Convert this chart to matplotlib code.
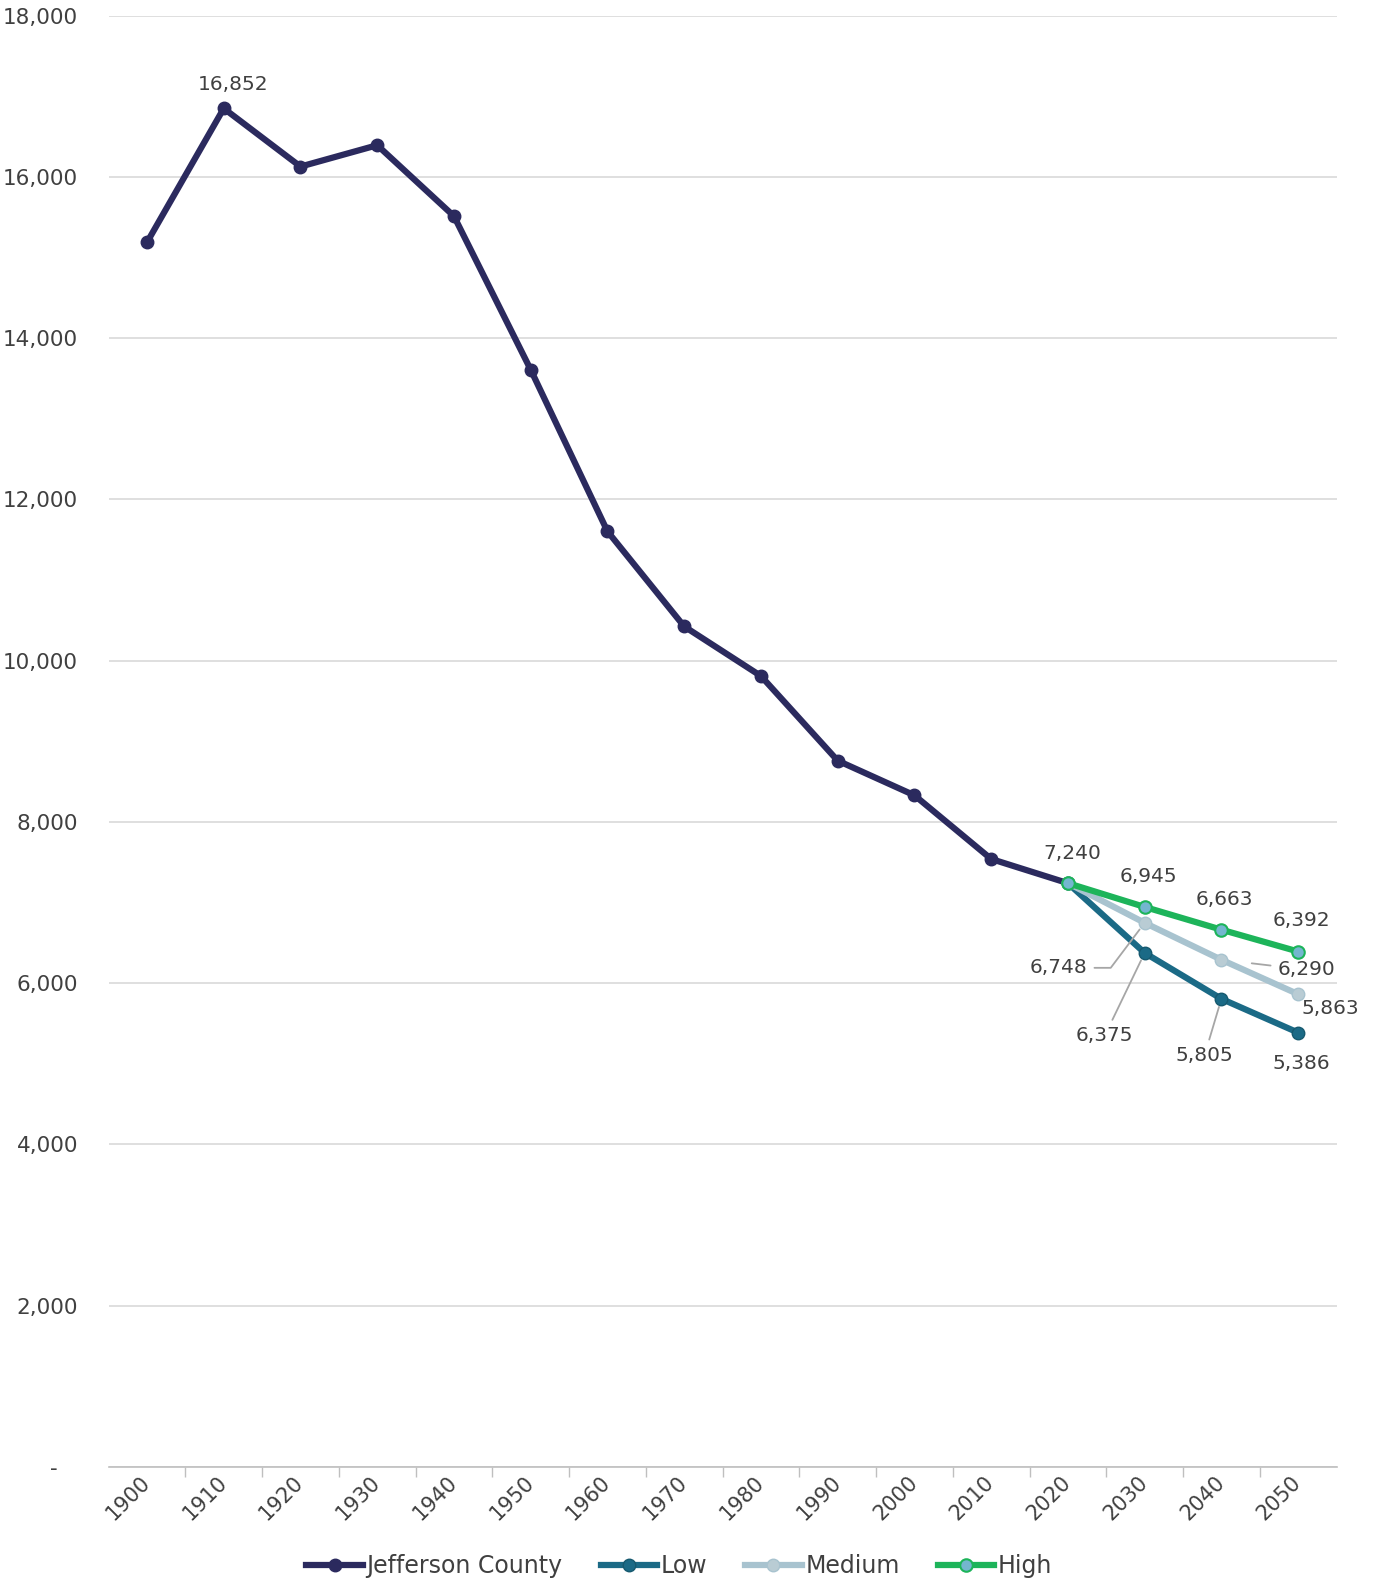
import matplotlib.pyplot as plt
from matplotlib.ticker import FuncFormatter, FixedLocator

plt.rcParams['font.family'] = ['DejaVu Sans']

years = [1900, 1910, 1920, 1930, 1940, 1950, 1960, 1970, 1980, 1990,
         2000, 2010, 2020, 2030, 2040, 2050]

# census counts 1900-2020
county = [15190, 16852, 16130, 16395, 15515, 13610, 11605, 10425, 9810,
          8760, 8330, 7540, 7240]

# projections 2020-2050
low = [7240, 6375, 5805, 5386]
medium = [7240, 6748, 6290, 5863]
high = [7240, 6945, 6663, 6392]

text_col = '#404040'
grid_col = '#d9d9d9'

fig = plt.figure(figsize=(13.75, 15.85), dpi=100)
ax = fig.add_axes([0.079, 0.0746, 0.893, 0.9154])

xi = list(range(len(years)))
xc = xi[:len(county)]
xp = xi[len(county) - 1:]

ax.plot(xc, county, color='#2b2a5e', lw=4.5, marker='o', ms=9,
        mfc='#2b2a5e', mec='#2b2a5e', zorder=3, label='Jefferson County')
ax.plot(xp, low, color='#1b6a86', lw=4.5, marker='o', ms=9,
        mfc='#1b6a86', mec='#16596f', zorder=4, label='Low')
ax.plot(xp, medium, color='#a8c3cf', lw=4.5, marker='o', ms=9,
        mfc='#b9ccd4', mec='#a8c3cf', zorder=4, label='Medium')
ax.plot(xp, high, color='#1db45a', lw=4.5, marker='o', ms=9,
        mfc='#74b6cf', mec='#1db45a', mew=1.5, zorder=5, label='High')

ax.set_xlim(-0.5, len(years) - 0.5)
ax.set_ylim(0, 18000)
ax.set_yticks(range(0, 18001, 2000))
ax.yaxis.set_major_formatter(FuncFormatter(
    lambda v, p: '-   ' if v == 0 else f'{int(v):,}'))
ax.grid(axis='y', color=grid_col, lw=1.2)
ax.set_axisbelow(True)

ax.set_xticks(xi)
ax.set_xticklabels([str(y) for y in years], rotation=45, ha='right',
                   va='center', rotation_mode='anchor')
ax.xaxis.set_minor_locator(FixedLocator([i + 0.5 for i in xi[:-1]]))
ax.tick_params(axis='x', which='major', length=0, pad=9,
               labelsize=15, labelcolor=text_col)
ax.tick_params(axis='x', which='minor', length=7, color='#bfbfbf', width=1)
ax.tick_params(axis='y', length=0, pad=22, labelsize=15.5, labelcolor=text_col)

for s in ['top', 'right', 'left']:
    ax.spines[s].set_visible(False)
ax.spines['bottom'].set_color('#bfbfbf')
ax.spines['bottom'].set_linewidth(1.2)


def label(x, y, dx, dy, leader=None, conn='arc3'):
    kw = dict(textcoords='offset pixels', ha='center', va='center',
              fontsize=14.5, color=text_col, zorder=6)
    if leader:
        kw['arrowprops'] = dict(arrowstyle='-', color='#a6a6a6', lw=1.3,
                                shrinkA=3, shrinkB=leader,
                                connectionstyle=conn)
    ax.annotate(f'{y:,}', (x, y), xytext=(dx, dy), **kw)


label(1, county[1], 9, 24)
label(xp[0], county[-1], 4, 30)
for i, (dx, dy) in enumerate([(4, 30), (3, 30), (3, 31)]):
    label(xp[i + 1], high[i + 1], dx, dy)
label(xp[1], medium[1], -86, -45, 6, 'angle,angleA=0,angleB=-127,rad=0')
label(xp[2], medium[2], 85, -10, 22)
label(xp[3], medium[3], 32, -14)
for i, (dx, dy, ld) in enumerate([(-40, -83, 6), (-17, -57, 6),
                                  (3, -31, None)]):
    label(xp[i + 1], low[i + 1], dx, dy, ld)

fig.legend(loc='center', bbox_to_anchor=(0.494, 0.012), ncol=4,
           frameon=False, fontsize=17, handlelength=2.4, handletextpad=0.15,
           columnspacing=1.6, labelcolor=text_col)

fig.savefig('out.png', dpi=100)
